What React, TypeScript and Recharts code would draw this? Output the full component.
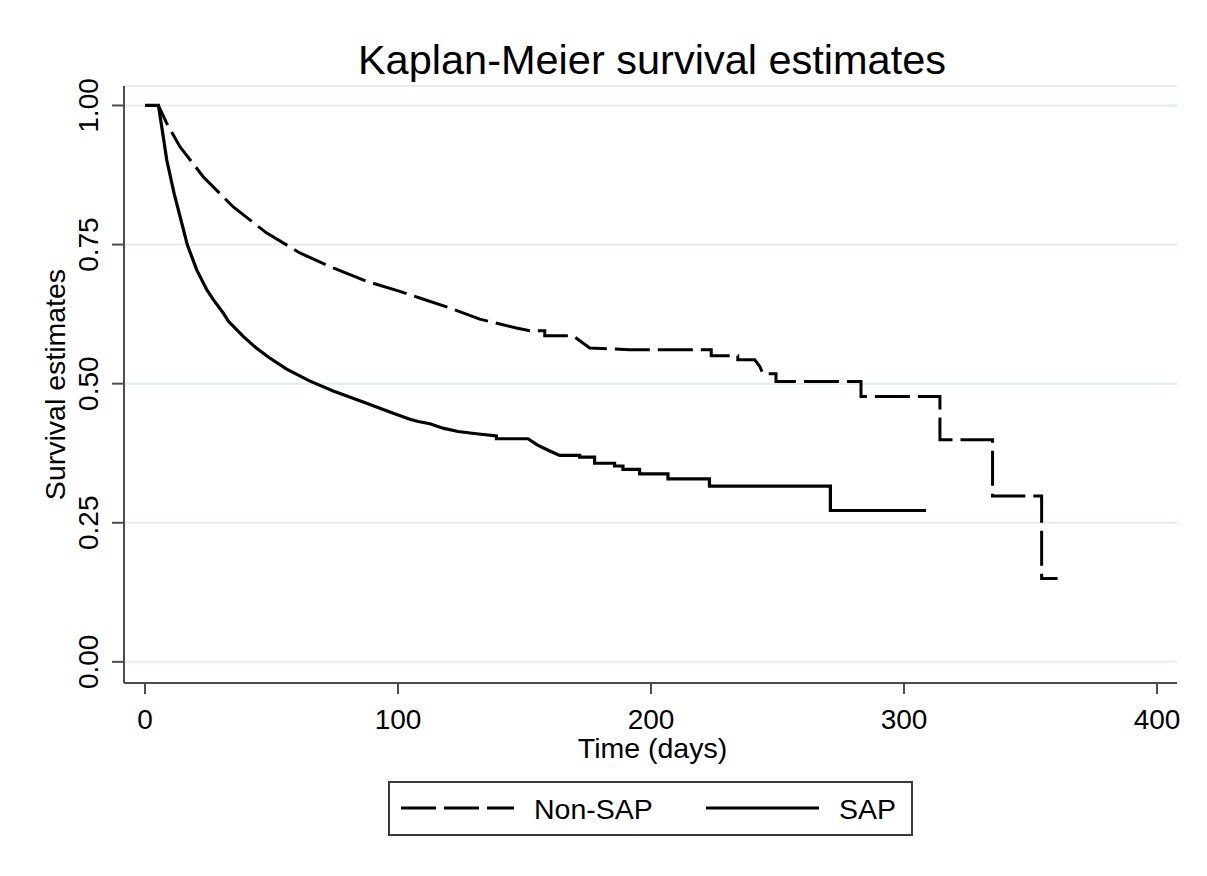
import { LineChart, Line, XAxis, YAxis, CartesianGrid, Legend } from 'recharts';

const FONT = '"Liberation Sans", Arial, sans-serif';

// Kaplan-Meier curves (time in days, survival proportion)
const nonSapTime = [
  0, 5.3, 8.6, 13.8, 23, 34.8, 48, 61.2, 74.4, 87.6, 100.7, 108.6, 120.5, 132.3, 146.8,
  152.1, 158, 158, 169.2, 175.8, 191.6, 223.8, 223.8, 234.3, 234.3, 241, 243, 244.2, 249.4,
  249.4, 283, 283, 314.2, 314.2, 335, 335, 354.4, 354.4, 360.7,
];
const nonSapSurv = [
  1, 1, 0.968, 0.926, 0.872, 0.818, 0.771, 0.735, 0.708, 0.684, 0.666, 0.654, 0.636, 0.616, 0.6,
  0.595, 0.595, 0.586, 0.586, 0.564, 0.561, 0.561, 0.55, 0.55, 0.543, 0.543, 0.531, 0.518, 0.518,
  0.504, 0.504, 0.477, 0.477, 0.399, 0.399, 0.298, 0.298, 0.15, 0.15,
];

const sapTime = [
  0, 5.3, 6.6, 8.6, 11.5, 14.9, 16.7, 20.4, 24.4, 27, 30.9, 33, 38.8, 44, 49, 56, 65, 74.4,
  87.6, 98.1, 104.7, 108, 112.6, 117.8, 123.7, 131, 138.9, 138.9, 151.4, 155, 160, 163.9, 171.8,
  171.8, 177.7, 177.7, 185.6, 185.6, 188.9, 188.9, 195.5, 195.5, 206.7, 206.7, 223.1, 223.1,
  270.9, 270.9, 308.7,
];
const sapSurv = [
  1, 1, 0.962, 0.902, 0.842, 0.782, 0.75, 0.705, 0.669, 0.651, 0.627, 0.612, 0.585, 0.564, 0.547,
  0.526, 0.505, 0.487, 0.465, 0.447, 0.436, 0.432, 0.428, 0.42, 0.414, 0.41, 0.406, 0.401, 0.401, 0.39,
  0.379, 0.371, 0.371, 0.368, 0.368, 0.357, 0.357, 0.352, 0.352, 0.346, 0.346, 0.338, 0.338,
  0.329, 0.329, 0.316, 0.316, 0.272, 0.272,
];

const xTicks = [0, 100, 200, 300, 400];
const yTicks = [0, 0.25, 0.5, 0.75, 1];

const toRows = (t: number[], s: number[]) => t.map((v, i) => ({ t: v, s: s[i] }));
const nonSapData = toRows(nonSapTime, nonSapSurv);
const sapData = toRows(sapTime, sapSurv);

const AXIS = '#4d4d4d';

function XTick({ x, y, payload }: any) {
  return (
    <text x={x} y={y} dy="0.71em" textAnchor="middle" fontSize={28} fontFamily={FONT} fill="#000">
      {payload.value}
    </text>
  );
}

function YTick({ x, y, payload }: any) {
  return (
    <text
      x={x}
      y={y}
      transform={`rotate(-90 ${x} ${y})`}
      textAnchor="middle"
      fontSize={28}
      fontFamily={FONT}
      fill="#000"
    >
      {Number(payload.value).toFixed(2)}
    </text>
  );
}

function LegendBox({ payload }: any) {
  const slot = 305;
  return (
    <div
      style={{
        boxSizing: 'border-box',
        width: 525,
        height: 55,
        border: '2px solid #3a3a3a',
        background: '#fff',
      }}
    >
      <svg width={521} height={51} style={{ display: 'block' }}>
        {(payload || []).map((entry: any, i: number) => (
          <g key={entry.value} transform={`translate(${i * slot},0)`}>
            <line
              x1={11}
              x2={124}
              y1={25}
              y2={25}
              stroke="#000"
              strokeWidth={3}
              strokeDasharray={entry.payload?.strokeDasharray}
            />
            <text x={144} y={36} fontSize={28.5} fontFamily={FONT} fill="#000">
              {entry.value}
            </text>
          </g>
        ))}
      </svg>
    </div>
  );
}

export default function App() {
  return (
    <div style={{ position: 'absolute', left: 0, top: 0, background: '#fff' }}>
      <LineChart width={1207} height={876} margin={{ top: 86, right: 30, bottom: 163, left: 64 }}>
        <text x={652} y={74} textAnchor="middle" fontSize={41.5} fontFamily={FONT} fill="#000">
          Kaplan-Meier survival estimates
        </text>
        <CartesianGrid horizontal vertical={false} stroke="#e2edf0" strokeWidth={2} />
        <XAxis
          type="number"
          dataKey="t"
          domain={[-8.3, 407.9]}
          ticks={xTicks}
          allowDataOverflow
          height={30}
          tickSize={11}
          tickMargin={15}
          axisLine={{ stroke: AXIS, strokeWidth: 2 }}
          tickLine={{ stroke: AXIS, strokeWidth: 2 }}
          tick={<XTick />}
          label={{
            content: ({ viewBox }: any) => (
              <text
                x={viewBox.x + viewBox.width / 2 + 2}
                y={viewBox.y + 75}
                textAnchor="middle"
                fontSize={28.5}
                fontFamily={FONT}
                fill="#000"
              >
                Time (days)
              </text>
            ),
          }}
        />
        <YAxis
          type="number"
          domain={[-0.038, 1.035]}
          ticks={yTicks}
          allowDataOverflow
          width={60}
          tickSize={12}
          tickMargin={14}
          axisLine={{ stroke: AXIS, strokeWidth: 2 }}
          tickLine={{ stroke: AXIS, strokeWidth: 2 }}
          tick={<YTick />}
          label={{
            content: ({ viewBox }: any) => {
              const cx = viewBox.x + 1;
              const cy = viewBox.y + viewBox.height / 2;
              return (
                <text
                  x={cx}
                  y={cy}
                  transform={`rotate(-90 ${cx} ${cy})`}
                  textAnchor="middle"
                  fontSize={28.5}
                  fontFamily={FONT}
                  fill="#000"
                >
                  Survival estimates
                </text>
              );
            },
          }}
        />
        <Line
          data={nonSapData}
          dataKey="s"
          name="Non-SAP"
          type="linear"
          stroke="#000"
          strokeWidth={3}
          strokeDasharray="35 8"
          dot={false}
          isAnimationActive={false}
        />
        <Line
          data={sapData}
          dataKey="s"
          name="SAP"
          type="linear"
          stroke="#000"
          strokeWidth={3.2}
          dot={false}
          isAnimationActive={false}
        />
        <Legend
          verticalAlign="middle"
          align="center"
          layout="horizontal"
          wrapperStyle={{ left: 388, top: 781, width: 525, height: 55 }}
          content={<LegendBox />}
        />
      </LineChart>
    </div>
  );
}
